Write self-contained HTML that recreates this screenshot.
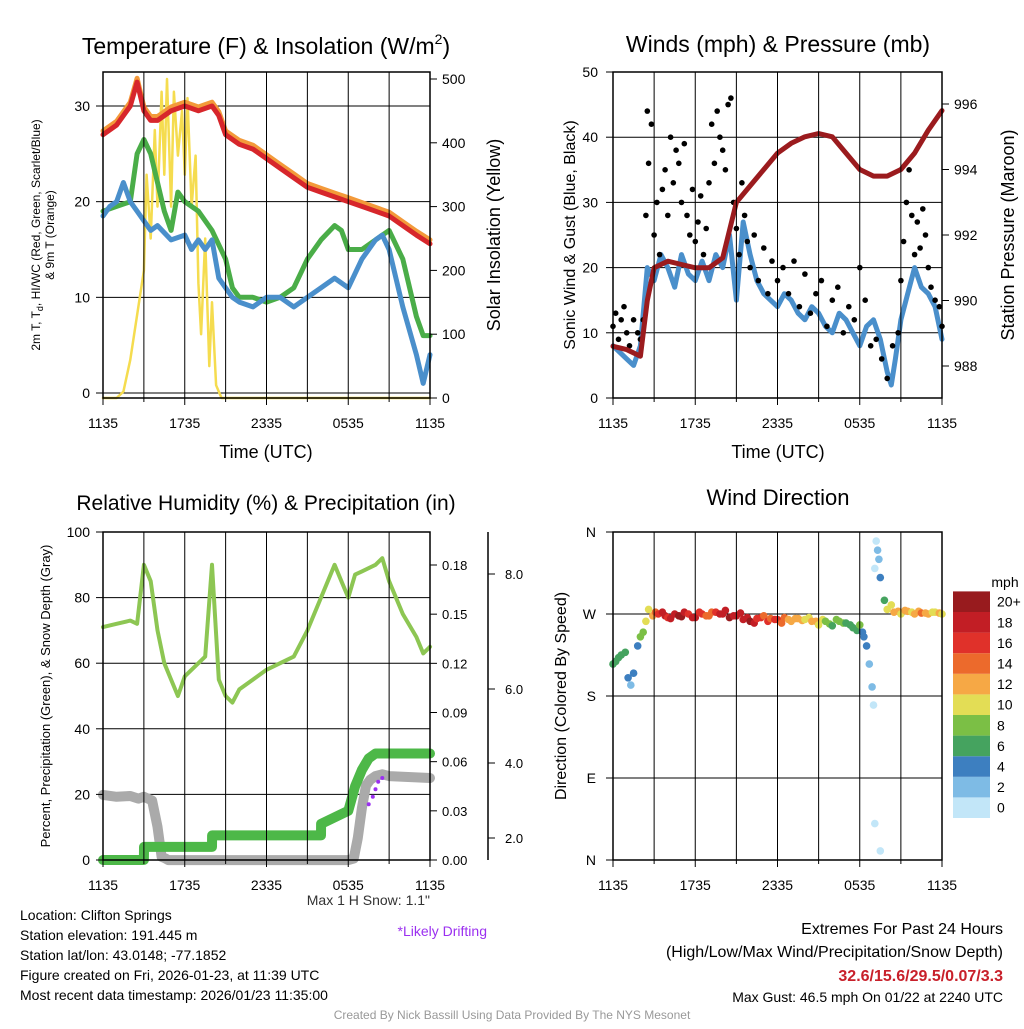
<!DOCTYPE html>
<html><head><meta charset="utf-8">
<style>
body{margin:0;background:#fff;}
svg{font-family:"Liberation Sans",sans-serif;}
</style></head>
<body>
<svg id="c" width="1024" height="1024" viewBox="0 0 1024 1024" xmlns="http://www.w3.org/2000/svg"></svg>
<script>
// ---- Data ----
const tempT=[0,1,2,2.5,3,3.5,4,5,6,7,8,8.5,9,10,11,12,13,14,15,16,17,18,19,20,21,22,23,24];
const tempV=[27,28,30,32.5,29.5,28.5,28.5,29.5,30,29.5,30,29,27,26,25.5,24.5,23.5,22.5,21.5,21,20.5,20,19.5,19,18.5,17.5,16.5,15.6];
const dewT=[0,1,2,2.5,3,3.5,4,4.5,5,5.5,6,7,8,9,9.5,10,11,12,13,14,15,16,17,17.5,18,19,20,21,22,23,23.5,24];
const dewV=[19,19.5,20,25,26.5,25,22,19,17,21,20,19,17,14,11,10,10,9.5,10,11,14,16,17.5,17,15,15,16,17,14,8,6,6];
const chillT=[0,0.5,1,1.5,2,2.5,3,3.5,4,5,6,6.5,7,7.5,8,8.5,9,9.5,10,11,12,13,14,15,16,17,18,19,20,20.5,21,22,23,23.5,24];
const chillV=[18.5,19.5,20,22,20,19,18,17,17.5,16,16.5,15,16,15,16,12,11,10,9.5,9,10,10,9,10,11,12,11,14,16,16.5,15,9,4,1,4];
const solT=[0,1,1.5,2,2.5,3,3.2,3.5,3.8,4,4.3,4.5,4.7,5,5.2,5.5,5.8,6,6.2,6.5,6.8,7,7.2,7.5,7.8,8,8.3,8.7,24];
const solV=[0,0,10,60,130,200,350,250,420,300,480,350,500,300,480,380,450,350,470,300,380,180,100,250,50,150,20,0,0];
const windT=[0,0.5,1,1.5,2,2.5,3,3.5,4,4.5,5,5.5,6,6.5,7,7.5,8,8.5,9,9.5,10,10.5,11,11.5,12,12.5,13,13.5,14,14.5,15,15.5,16,16.5,17,17.5,18,18.5,19,19.5,20,20.3,20.6,21,21.5,22,22.5,23,23.5,24];
const windV=[8,7,6,5,8,20,18,22,20,17,22,19,18,21,18,22,20,25,15,27,22,18,16,15,14,16,15,13,12,14,13,11,10,13,12,10,8,11,12,9,4,2,6,12,16,20,17,16,14,9];
const presT=[0,1,2,2.5,3,4,5,6,7,8,9,10,11,12,13,14,15,16,17,18,19,20,21,22,23,24];
const presV=[988.6,988.5,988.3,990,991,991.2,991.1,991,991,991.3,993,993.5,994,994.5,994.8,995,995.1,995,994.5,994,993.8,993.8,994,994.5,995.2,995.8];
const gustT=[0,0.2,0.4,0.6,0.8,1,1.2,1.5,1.8,2,2.2,2.4,2.5,2.6,2.8,3,3.2,3.4,3.6,3.8,4,4.2,4.4,4.6,4.8,5,5.2,5.4,5.6,5.8,6,6.2,6.4,6.6,6.8,7,7.2,7.4,7.6,7.8,8,8.2,8.4,8.6,8.8,9,9.2,9.4,9.6,9.8,10,10.3,10.6,11,11.3,11.6,12,12.4,12.8,13.2,13.6,14,14.4,14.8,15.2,15.6,16,16.4,16.8,17.2,17.6,18,18.4,18.8,19.2,19.6,20,20.4,20.8,21,21.2,21.4,21.6,21.8,22,22.2,22.4,22.6,22.8,23,23.2,23.5,23.8,24];
const gustV=[11,13,9,12,14,10,8,12,10,9,12,28,44,36,42,25,30,22,32,35,28,40,33,38,36,30,39,28,25,32,24,27,31,22,26,33,42,36,44,40,38,35,45,46,30,26,22,33,28,24,20,25,18,23,16,21,18,20,16,21,14,19,13,16,18,11,15,17,10,14,12,20,15,8,9,6,3,8,10,18,24,30,35,28,22,27,23,29,25,20,17,15,14,11];
const rhT=[0,1,2,2.5,3,3.5,4,4.5,5,5.5,6,7,7.5,8,8.5,9,9.5,10,11,12,13,14,15,16,17,17.5,18,18.5,19,20,20.5,21,22,23,23.5,24];
const rhV=[71,72,73,72,90,85,70,60,55,50,56,60,62,90,55,50,48,52,55,58,60,62,70,80,90,85,80,87,88,90,92,85,75,68,63,65];
const precT=[0,3,3.01,8,8.01,16,16.01,18,18.5,19,19.5,20,24];
const precV=[0,0,0.008,0.008,0.015,0.015,0.022,0.03,0.045,0.055,0.062,0.065,0.065];
const snowT=[0,1,2,2.6,3,3.6,4,4.3,4.6,4.8,18,18.4,18.7,19,19.3,19.6,20,20.5,21,24];
const snowV=[3.15,3.1,3.12,3.05,3.1,3.0,2.3,1.5,1.45,1.41,1.41,1.45,2.0,2.8,3.4,3.55,3.65,3.7,3.65,3.6];
const driftT=[19.5,19.8,20,20.2,20.5];
const driftV=[2.9,3.1,3.3,3.5,3.6];
const dirT=[0,0.2,0.4,0.6,0.9,1.1,1.3,1.5,1.8,2,2.2,2.4,2.6,2.9,3.1,3.3,3.6,3.8,4,4.2,4.5,4.8,5,5.2,5.5,5.8,6,6.3,6.5,6.8,7,7.2,7.5,7.8,8,8.2,8.5,8.8,9,9.3,9.5,9.8,10,10.3,10.5,10.8,11,11.3,11.5,11.8,12,12.3,12.5,12.8,13,13.3,13.5,13.8,14,14.3,14.5,14.8,15,15.3,15.5,15.8,16,16.3,16.5,16.8,17,17.3,17.5,17.8,18,18.2,18.3,18.5,18.7,18.9,19,19.1,19.2,19.3,19.4,19.5,19.1,19.5,19.8,20,20.3,20.5,20.8,21,21.3,21.5,21.8,22,22.3,22.5,22.8,23,23.3,23.5,23.8,24];
const dirV=[215,218,222,225,228,200,192,205,235,245,250,262,275,268,272,270,272,268,266,265,270,268,267,272,270,266,266,272,270,268,268,272,272,270,270,274,266,268,268,271,264,266,262,260,265,266,268,262,265,264,264,260,266,264,262,265,265,263,264,266,262,262,258,264,262,259,257,264,262,260,260,258,255,252,258,250,245,235,215,190,170,320,350,340,330,310,40,10,285,275,280,272,273,270,274,273,272,270,273,271,271,270,272,272,271,270];
const dirS=[6,6,7,7,6,4,3,4,5,8,8,10,11,12,14,16,18,18,17,18,18,20,20,19,16,18,18,17,17,15,14,15,16,18,18,19,20,19,18,18,18,19,20,19,16,17,15,16,14,16,17,15,14,13,13,12,12,13,10,11,13,12,10,11,8,9,7,8,8,9,7,7,7,6,8,5,4,4,3,2,1,1,1,2,3,4,1,1,6,10,11,12,12,11,12,13,11,12,12,14,13,12,11,11,12,10];
const timeLabels=["1135","1735","2335","0535","1135"];
const cbLabels=["0","2","4","6","8","10","12","14","16","18","20+"];
const cbColors=["#c2e6f8","#7ebbe5","#3d7fc0","#45a35f","#7bbf45","#e3dd55","#f6a845","#ec6a2c","#e0312a","#c21e25","#981b1e"];

const svg=document.getElementById('c');
const NS='http://www.w3.org/2000/svg';
function el(tag,attrs,parent){const e=document.createElementNS(NS,tag);for(const k in attrs)e.setAttribute(k,attrs[k]);(parent||svg).appendChild(e);return e;}
function txt(x,y,s,size,anchor,extra){const e=el('text',Object.assign({x:x,y:y,'font-size':size,'text-anchor':anchor||'middle',fill:'#000'},extra||{}));e.textContent=s;return e;}
function lin(d0,d1,r0,r1){return v=>r0+(v-d0)/(d1-d0)*(r1-r0);}
function path(xs,ys,fx,fy,attrs,name){let d='';xs.forEach((t,i)=>{d+=(i?'L':'M')+fx(t).toFixed(1)+','+fy(ys[i]).toFixed(1);});const p=el('path',Object.assign({d:d,fill:'none','stroke-linejoin':'round','stroke-linecap':'round'},attrs));return p;}
function dots(xs,ys,fx,fy,r,colorFn,name){const g=el('g',{});xs.forEach((t,i)=>{const c=el('circle',{cx:fx(t).toFixed(1),cy:fy(ys[i]).toFixed(1),r:r,fill:colorFn(i)},g);});return g;}
function frame(x0,y0,x1,y1,name){
  const g=el('g',{});
  el('rect',{x:x0,y:y0,width:x1-x0,height:y1-y0,fill:'none',stroke:'#000','stroke-width':1.5},g);
  for(let i=1;i<8;i++){const x=x0+(x1-x0)*i/8;el('line',{x1:x,y1:y0,x2:x,y2:y1,stroke:'#000','stroke-width':1},g);}
  for(let i=0;i<=8;i++){const x=x0+(x1-x0)*i/8;el('line',{x1:x,y1:y1,x2:x,y2:y1+(i%2?4:7),stroke:'#000'},g);}
  timeLabels.forEach((s,i)=>{const t=txt(x0+(x1-x0)*i/4,y1+30,s,14);});
}
function hgrid(x0,x1,ys){ys.forEach(y=>el('line',{x1:x0,y1:y,x2:x1,y2:y,stroke:'#000','stroke-width':1}));}

// ===== Panel 1 =====
{const X=lin(0,24,103,430),Y=lin(0,30,393,106),Ys=lin(0,500,398,79);
hgrid(103,430,[0,10,20,30].map(Y));
path(solT,solV,X,Ys,{stroke:'#f5dc4f','stroke-width':2.5},'solar-insolation-line');
path(tempT,tempV.map(v=>v+0.4),X,Y,{stroke:'#f39a3a','stroke-width':5},'9m-temperature-line');
path(tempT,tempV,X,Y,{stroke:'#d7262b','stroke-width':5},'2m-temperature-line');
path(dewT,dewV,X,Y,{stroke:'#4aad48','stroke-width':5},'dewpoint-line');
path(chillT,chillV,X,Y,{stroke:'#4a8fcb','stroke-width':5},'wind-chill-line');
frame(103,72,430,398,'temperature-plot');
[0,10,20,30].forEach(v=>{el('line',{x1:96,y1:Y(v),x2:103,y2:Y(v),stroke:'#000'});txt(90,Y(v)+5,String(v),14,'end');});
[0,100,200,300,400,500].forEach(v=>{el('line',{x1:430,y1:Ys(v),x2:437,y2:Ys(v),stroke:'#000'});txt(442,Ys(v)+5,String(v),14,'start');});
const t=txt(266,54,'',23);t.innerHTML='Temperature (F) &amp; Insolation (W/m<tspan font-size="14" dy="-10">2</tspan><tspan dy="10">)</tspan>';
txt(266,458,'Time (UTC)',18);
const yl=el('text',{transform:'translate(40,235) rotate(-90)','font-size':12,'text-anchor':'middle'});yl.innerHTML='<tspan x="0" y="0">2m T, T<tspan font-size="9" dy="3">d</tspan><tspan dy="-3">, HI/WC (Red, Green, Scarlet/Blue)</tspan></tspan><tspan x="0" y="14">&amp; 9m T (Orange)</tspan>';

txt(0,0,'Solar Insolation (Yellow)',18,'middle',{transform:'translate(500,235) rotate(-90)'});
}
// ===== Panel 2 =====
{const X=lin(0,24,613,942),Y=lin(0,50,398,72),Yp=lin(988,996,366,104);
hgrid(613,942,[10,20,30,40].map(Y));
path(windT,windV,X,Y,{stroke:'#4a8fcb','stroke-width':5},'sonic-wind-line');
dots(gustT,gustV,X,Y,2.8,()=>'#000','wind-gust-dots');
path(presT,presV,X,Yp,{stroke:'#9b1b1e','stroke-width':5},'station-pressure-line');
frame(613,72,942,398,'winds-plot');
[0,10,20,30,40,50].forEach(v=>{el('line',{x1:606,y1:Y(v),x2:613,y2:Y(v),stroke:'#000'});txt(598,Y(v)+5,String(v),14,'end');});
[988,990,992,994,996].forEach(v=>{el('line',{x1:942,y1:Yp(v),x2:949,y2:Yp(v),stroke:'#000'});txt(954,Yp(v)+5,String(v),14,'start');});
txt(778,52,'Winds (mph) & Pressure (mb)',23);
txt(778,458,'Time (UTC)',18);
txt(0,0,'Sonic Wind & Gust (Blue, Black)',16,'middle',{transform:'translate(575,235) rotate(-90)'});
txt(0,0,'Station Pressure (Maroon)',18,'middle',{transform:'translate(1014,235) rotate(-90)'});
}
// ===== Panel 3 =====
{const X=lin(0,24,103,430),Y=lin(0,100,860,532),Yq=lin(0,0.18,860,565),Ysn=lin(2,4,838,763);
hgrid(103,430,[0,20,40,60,80].map(Y));
path(snowT,snowV,X,Ysn,{stroke:'#aaaaaa','stroke-width':10},'snow-depth-line');
path(precT,precV,X,Yq,{stroke:'#4db848','stroke-width':10},'precipitation-line');
path(rhT,rhV,X,Y,{stroke:'#8dc653','stroke-width':4},'relative-humidity-line');
dots(driftT,driftV,X,Ysn,2,()=>'#9b30f0','likely-drifting-points');
frame(103,532,430,860,'humidity-plot');
[0,20,40,60,80,100].forEach(v=>{el('line',{x1:96,y1:Y(v),x2:103,y2:Y(v),stroke:'#000'});txt(90,Y(v)+5,String(v),14,'end');});
[0,0.03,0.06,0.09,0.12,0.15,0.18].forEach(v=>{el('line',{x1:430,y1:Yq(v),x2:437,y2:Yq(v),stroke:'#000'});txt(442,Yq(v)+5,v.toFixed(2),13,'start');});
el('line',{x1:488,y1:532,x2:488,y2:860,stroke:'#000','stroke-width':1.5});
[2,4,6,8].forEach((v,i)=>{const y=[838,763,689,574][i];el('line',{x1:488,y1:y,x2:495,y2:y,stroke:'#000'});txt(505,y+5,v.toFixed(1),13,'start');});
txt(266,510,'Relative Humidity (%) & Precipitation (in)',21);
txt(0,0,'Percent, Precipitation (Green), & Snow Depth (Gray)',13,'middle',{transform:'translate(50,696) rotate(-90)'});
txt(430,905,'Max 1 H Snow: 1.1"',14,'end',{fill:'#333'});
txt(487,936,'*Likely Drifting',14,'end',{fill:'#9b30f0'});
}
// ===== Panel 4 =====
{const X=lin(0,24,613,942),Y=lin(0,360,860,532);
hgrid(613,942,[90,180,270].map(Y));
const col=i=>cbColors[Math.min(10,Math.floor(dirS[i]/2))];
dots(dirT,dirV,X,Y,3.8,col,'wind-direction-dots');
frame(613,532,942,860,'wind-direction-plot');
[['N',0],['E',90],['S',180],['W',270],['N',360]].forEach(a=>{el('line',{x1:606,y1:Y(a[1]),x2:613,y2:Y(a[1]),stroke:'#000'});txt(596,Y(a[1])+5,a[0],14,'end');});
txt(778,505,'Wind Direction',22);
txt(0,0,'Direction (Colored By Speed)',16,'middle',{transform:'translate(566,696) rotate(-90)'});
const cb=el('g',{});
const h=20.6;cbColors.forEach((c,i)=>{const y=818-(i+1)*h;el('rect',{x:953,y:y,width:37,height:h,fill:c},cb);txt(997,y+h/2+5,cbLabels[i],14,'start');});
txt(1005,587,'mph',14);
}
// ===== Footer text =====
const info=['Location: Clifton Springs','Station elevation: 191.445 m','Station lat/lon: 43.0148; -77.1852','Figure created on Fri, 2026-01-23, at 11:39 UTC','Most recent data timestamp: 2026/01/23 11:35:00'];
info.forEach((s,i)=>{const t=txt(20,920+i*20,s,14,'start');});
txt(1003,934,'Extremes For Past 24 Hours',16,'end');
txt(1003,957,'(High/Low/Max Wind/Precipitation/Snow Depth)',16,'end');
txt(1003,981,'32.6/15.6/29.5/0.07/3.3',16,'end',{fill:'#c8202a','font-weight':'bold'});
txt(1003,1002,'Max Gust: 46.5 mph On 01/22 at 2240 UTC',14,'end');
txt(512,1019,'Created By Nick Bassill Using Data Provided By The NYS Mesonet',12,'middle',{fill:'#999'});
</script>
</body></html>
